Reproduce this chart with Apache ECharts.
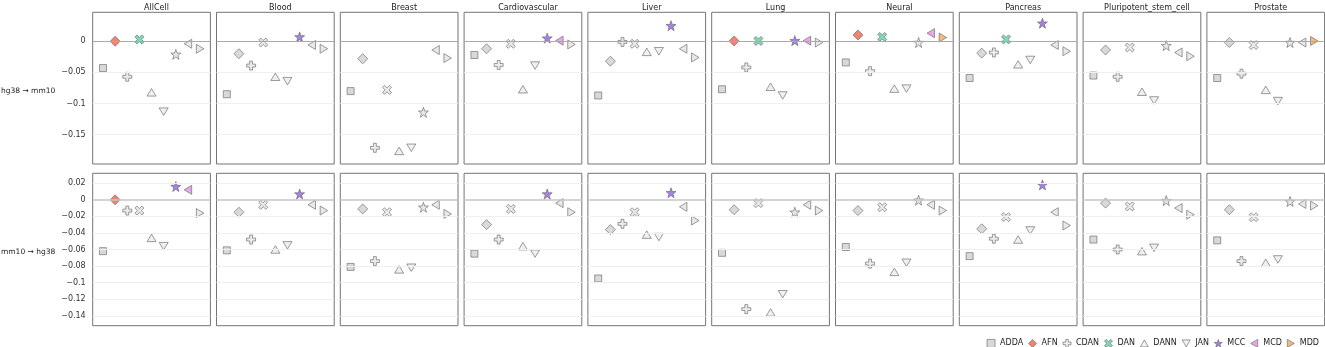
<!DOCTYPE html>
<html>
<head>
<meta charset="utf-8">
<script src="https://cdn.jsdelivr.net/npm/echarts@6/dist/echarts.min.js"></script>
<style>
  html, body { margin: 0; padding: 0; background: #fff; }
  #chart { width: 1325px; height: 347px; }
</style>
</head>
<body>
<div id="chart"></div>
<script>
// facets and methods
var tissues = ['AllCell', 'Blood', 'Breast', 'Cardiovascular', 'Liver', 'Lung', 'Neural', 'Pancreas', 'Pluripotent_stem_cell', 'Prostate'];
var methods = ['ADDA', 'AFN', 'CDAN', 'DAN', 'DANN', 'JAN', 'MCC', 'MCD', 'MDD'];
var rowLabels = ['hg38 \u2192 mm10', 'mm10 \u2192 hg38'];

// hg38 -> mm10, one line per tissue, values in method order
var hgToMm = [
    [-0.043, 0, -0.057, 0.003, -0.082, -0.113, -0.021, -0.004, -0.012],
    [-0.085, -0.020, -0.039, -0.002, -0.057, -0.064, 0.007, -0.006, -0.012],
    [-0.080, -0.028, -0.171, -0.078, -0.176, -0.171, -0.114, -0.014, -0.027],
    [-0.022, -0.012, -0.038, -0.004, -0.077, -0.039, 0.005, 0.001, -0.005],
    [-0.087, -0.032, -0.001, -0.004, -0.017, -0.016, 0.025, -0.012, -0.026],
    [-0.077, 0.0005, -0.042, 0.0005, -0.073, -0.087, 0.001, 0.001, -0.002],
    [-0.034, 0.010, -0.048, 0.007, -0.076, -0.076, -0.002, 0.013, 0.006],
    [-0.059, -0.019, -0.018, 0.003, -0.037, -0.030, 0.029, -0.006, -0.016],
    [-0.055, -0.014, -0.057, -0.010, -0.081, -0.095, -0.007, -0.018, -0.024],
    [-0.059, -0.002, -0.052, -0.006, -0.078, -0.096, -0.002, -0.002, 0.0005]
];

// mm10 -> hg38
var mmToHg = [
    [-0.062, 0, -0.013, -0.013, -0.046, -0.056, 0.016, 0.012, -0.016],
    [-0.061, -0.015, -0.048, -0.006, -0.060, -0.055, 0.007, -0.006, -0.013],
    [-0.081, -0.011, -0.074, -0.015, -0.084, -0.082, -0.009, -0.006, -0.017],
    [-0.065, -0.030, -0.048, -0.011, -0.056, -0.065, 0.007, -0.004, -0.015],
    [-0.095, -0.036, -0.029, -0.015, -0.042, -0.045, 0.0085, -0.0085, -0.025],
    [-0.064, -0.012, -0.132, -0.004, -0.136, -0.114, -0.015, -0.006, -0.013],
    [-0.057, -0.013, -0.077, -0.009, -0.087, -0.076, -0.0005, -0.006, -0.013],
    [-0.068, -0.035, -0.047, -0.021, -0.048, -0.037, 0.018, -0.015, -0.031],
    [-0.048, -0.004, -0.060, -0.008, -0.062, -0.058, -0.001, -0.010, -0.018],
    [-0.049, -0.012, -0.074, -0.021, -0.076, -0.072, -0.002, -0.005, -0.007]
];

// y tick labels per row
var ticksTop = [-0.15, -0.1, -0.05, 0];
var ticksBottom = [-0.14, -0.12, -0.1, -0.08, -0.06, -0.04, -0.02, 0, 0.02];

var rows = [
    {data: hgToMm, ticks: ticksTop, min: -0.197, max: 0.0465, top: 12.3, height: 151.7,
     zero: {color: '#aaaaaa', width: 1, type: 'solid'}},
    {data: mmToHg, ticks: ticksBottom, min: -0.152, max: 0.032, top: 173.3, height: 152.4,
     zero: {color: '#c6c6c6', width: 1.6, type: 'solid'}}
];

var colors = {
    ADDA: '#d0d0d0', AFN: '#e8664d', CDAN: '#ececec', DAN: '#5fd3a3', DANN: '#f0f0f0',
    JAN: '#f0f0f0', MCC: '#9162e4', MCD: '#e590e6', MDD: '#f5a85c'
};
var greys = {
    ADDA: '#d0d0d0', AFN: '#d0d0d0', CDAN: '#e6e6e6', DAN: '#e2e2e2', DANN: '#ececec',
    JAN: '#ececec', MCC: '#e2e2e2', MCD: '#e2e2e2', MDD: '#e2e2e2'
};
var symbols = {
    ADDA: 'rect',
    AFN: 'diamond',
    CDAN: 'path://M3.4,0H6.6V3.4H10V6.6H6.6V10H3.4V6.6H0V3.4H3.4Z',
    DAN: 'path://M0,2.2L2.2,0L5,2.8L7.8,0L10,2.2L7.2,5L10,7.8L7.8,10L5,7.2L2.2,10L0,7.8L2.8,5Z',
    DANN: 'path://M5,0L10,8.7L0,8.7Z',
    JAN: 'path://M0,0L10,0L5,8.7Z',
    MCC: 'path://M5,0L6.18,3.38L9.76,3.45L6.9,5.62L7.94,9.05L5,7L2.06,9.05L3.1,5.62L0.24,3.45L3.82,3.38Z',
    MCD: 'path://M8.7,0L8.7,10L0,5Z',
    MDD: 'path://M0,0L8.7,5L0,10Z'
};
var sizes = {
    ADDA: [7, 7], AFN: [10, 10], CDAN: [9, 9], DAN: [9, 9], DANN: [9, 7.5],
    JAN: [9, 7.5], MCC: [10, 10], MCD: [7.5, 9], MDD: [7.5, 9]
};

function fmt(v) {
    if (Math.abs(v) < 1e-9) return '0';
    return String(+v.toFixed(2)).replace('-', '\u2212');
}

var grids = [], xAxes = [], yAxes = [], series = [], titles = [];
var FONT = 'DejaVu Sans';

rows.forEach(function (row, r) {
    tissues.forEach(function (t, c) {
        var g = grids.length;
        grids.push({
            left: 92.7 + c * 123.8, top: row.top, width: 117.7, height: row.height,
            show: true, borderColor: '#747474', borderWidth: 1, backgroundColor: '#fff'
        });
        xAxes.push({gridIndex: g, type: 'value', min: -0.85, max: 8.85, show: false});
        yAxes.push({
            gridIndex: g, type: 'value', min: row.min, max: row.max,
            splitLine: {show: false}, axisLine: {show: false}, axisTick: {show: false},
            axisLabel: {
                show: c === 0, customValues: row.ticks, formatter: fmt,
                fontSize: 8, color: '#333', margin: 7, fontFamily: FONT
            }
        });
        // grid lines
        series.push({
            type: 'scatter', xAxisIndex: g, yAxisIndex: g, data: [], z: 1, silent: true,
            markLine: {
                silent: true, symbol: 'none', label: {show: false}, animation: false,
                data: row.ticks.map(function (v) {
                    return {
                        yAxis: v,
                        lineStyle: v === 0 ? row.zero : {color: '#efefef', width: 1, type: 'solid'}
                    };
                })
            }
        });
        methods.forEach(function (m, k) {
            var v = row.data[c][k];
            series.push({
                name: m, type: 'scatter', xAxisIndex: g, yAxisIndex: g, z: 3,
                symbol: symbols[m], symbolSize: sizes[m],
                itemStyle: {color: colors[m], borderColor: '#666', borderWidth: 0.8},
                data: [{value: [k, v], itemStyle: {color: v >= 0 ? colors[m] : greys[m]}}]
            });
        });
        if (r === 0) {
            titles.push({
                text: t, left: 92.7 + c * 123.8 + 117.7 / 2, top: -1, textAlign: 'center',
                textStyle: {fontSize: 8, fontWeight: 'normal', color: '#222', fontFamily: FONT}
            });
        }
    });
    titles.push({
        text: rowLabels[r], left: -4, top: row.top + row.height / 2 - 6,
        textStyle: {fontSize: 7.5, fontWeight: 'normal', color: '#222', fontFamily: FONT}
    });
});

var chart = echarts.init(document.getElementById('chart'));
chart.setOption({
    animation: false,
    backgroundColor: '#fff',
    title: titles,
    legend: {
        data: methods, right: 1, top: 334, itemWidth: 8, itemHeight: 8, itemGap: 5,
        textStyle: {fontSize: 8, color: '#222', fontFamily: FONT},
        itemStyle: {borderColor: '#666', borderWidth: 0.8}
    },
    grid: grids,
    xAxis: xAxes,
    yAxis: yAxes,
    series: series
});
</script>
</body>
</html>
